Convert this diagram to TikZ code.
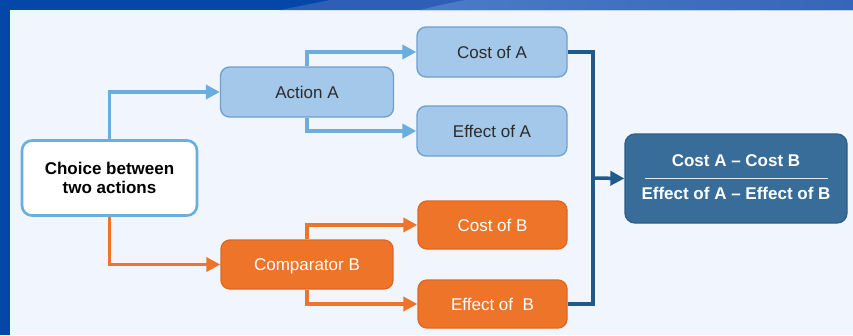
\documentclass[tikz,border=0pt]{standalone}
\usepackage{fontspec}
\setmainfont{Liberation Sans}
\usetikzlibrary{arrows.meta}

\definecolor{panel}{HTML}{F0F5FE}
\definecolor{frameblue}{HTML}{0447A8}
\definecolor{framemid}{HTML}{2C5FB5}
\definecolor{framelight}{HTML}{4A7CC8}
\definecolor{frameend}{HTML}{3566B9}
\definecolor{linkblue}{HTML}{6AAEE0}
\definecolor{lightfill}{HTML}{A3C8E9}
\definecolor{lightedge}{HTML}{6F9FCC}
\definecolor{orangefill}{HTML}{EE742A}
\definecolor{orangeedge}{HTML}{E0671F}
\definecolor{resfill}{HTML}{386C99}
\definecolor{resedge}{HTML}{2C5E8A}
\definecolor{bracket}{HTML}{1E5B8C}
\definecolor{darktext}{HTML}{2B2B2B}

\tikzset{
  box/.style={rounded corners=9pt, line width=1.3pt, inner sep=0pt,
    font=\fontsize{17}{19.5}\selectfont, text height=12.2pt, text depth=0pt},
  abox/.style={box, draw=lightedge, fill=lightfill, text=darktext},
  bbox/.style={box, draw=orangeedge, fill=orangefill, text=white},
  startbox/.style={rounded corners=10pt, line width=2.6pt, draw=linkblue, fill=white,
    text=black, align=center, inner sep=0pt,
    font=\fontsize{17}{19.5}\selectfont\bfseries},
  resbox/.style={rounded corners=10pt, line width=1.3pt, draw=resedge, fill=resfill},
  restext/.style={anchor=base, text=white, inner sep=0pt,
    font=\fontsize{17}{19.5}\selectfont\bfseries},
  tip/.style={-{Triangle[length=14pt,width=14pt]}},
  alink/.style={tip, line width=3.5pt, draw=linkblue, color=linkblue},
  blink/.style={tip, line width=3.5pt, draw=orangefill, color=orangefill},
  sumlink/.style={line width=3.5pt, draw=bracket, color=bracket},
}

\begin{document}
\begin{tikzpicture}[x=1pt, y=-1pt]
  % background panel and frame
  \useasboundingbox (0,0) rectangle (853,335);
  \fill[panel] (0,0) rectangle (853,335);
  \fill[frameblue] (0,0) rectangle (853,10);
  \fill[frameblue] (0,0) rectangle (10,335);
  \fill[framemid] (280,10) -- (330,0) -- (853,0) -- (853,10) -- cycle;
  \shade[left color=framelight, right color=frameend]
    (420,10) .. controls (440,5) .. (465,0) -- (853,0) -- (853,10) -- cycle;

  % nodes
  \node[startbox, minimum width=175pt, minimum height=75pt] (choice) at (109.5,178)
    {Choice between\\two actions};
  \node[abox, minimum width=173pt, minimum height=50pt] (actA) at (307,92) {Action A};
  \node[abox, minimum width=150pt, minimum height=50pt] (costA) at (492,52) {Cost of A};
  \node[abox, minimum width=150pt, minimum height=50pt] (effA) at (492,131) {Effect of A};
  \node[bbox, minimum width=172pt, minimum height=49pt] (compB) at (307,264.5) {Comparator B};
  \node[bbox, minimum width=149pt, minimum height=48pt] (costB) at (492.5,225) {Cost of B};
  \node[bbox, minimum width=149pt, minimum height=48pt] (effB) at (492.5,304) {Effect of\ \ B};
  \node[resbox, minimum width=222pt, minimum height=89pt] (res) at (736,178.5) {};
  \node[restext] (num) at (736,166.5) {Cost A – Cost B};
  \node[restext] (den) at (736,199.5) {Effect of A – Effect of B};
  \draw[draw=white!85!resfill, line width=1.5pt]
    ([xshift=-91.5pt]res.center) -- ([xshift=91.5pt]res.center);

  % connectors
  \draw[alink] (choice.north) |- (actA.west);
  \draw[blink] (choice.south) |- (compB.west);
  \draw[alink] (actA.north) |- (costA.west);
  \draw[alink] (actA.south) |- (effA.west);
  \draw[blink] (compB.north) |- (costB.west);
  \draw[blink] (compB.south) |- (effB.west);

  \coordinate (join) at (593,178);
  \draw[sumlink] (costA.east) -| (join) |- (effB.east);
  \draw[sumlink, tip] (join) -- (res.west);
\end{tikzpicture}
\end{document}
